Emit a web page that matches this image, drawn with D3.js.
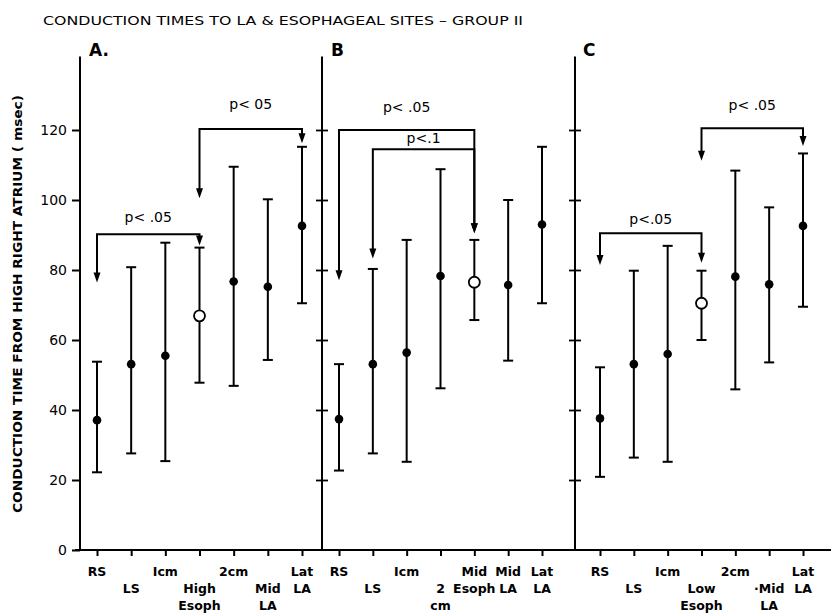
<!DOCTYPE html>
<html>
<head>
<meta charset="utf-8">
<script src="https://cdn.jsdelivr.net/npm/d3@7"></script>
<style>
  body { margin: 0; background: #fff; }
  svg text { font-family: "DejaVu Sans", "Liberation Sans", Arial, sans-serif; fill: #000; }
</style>
</head>
<body>
<svg id="chart" width="831" height="613"></svg>
<script>
// Group II conduction times, mean with range (msec)
const categoriesA = ["RS", "LS", "1cm", "High Esoph", "2cm", "Mid LA", "Lat LA"];
const categoriesB = ["RS", "LS", "1cm", "2cm", "Mid Esoph", "Mid LA", "Lat LA"];
const categoriesC = ["RS", "LS", "1cm", "Low Esoph", "2cm", "Mid LA", "Lat LA"];

// tick label lines, one entry per row under the axis ("" = empty row)
const tickLinesA = [["RS"], ["", "LS"], ["Icm"], ["", "High", "Esoph"], ["2cm"], ["", "Mid", "LA"], ["Lat", "LA"]];
const tickLinesB = [["RS"], ["", "LS"], ["Icm"], ["", "2", "cm"], ["Mid", "Esoph"], ["Mid", "LA"], ["Lat", "LA"]];
const tickLinesC = [["RS"], ["", "LS"], ["Icm"], ["", "Low", "Esoph"], ["2cm"], ["", "·Mid", "LA"], ["Lat", "LA"]];

const meanA = [37.1, 53.1, 55.5, 66.9, 76.7, 75.2, 92.6];
const lowA  = [22.2, 27.6, 25.4, 47.8, 46.9, 54.3, 70.5];
const highA = [53.8, 80.8, 87.8, 86.4, 109.5, 100.2, 115.2];

const meanB = [37.4, 53.1, 56.4, 78.3, 76.5, 75.7, 93.0];
const lowB  = [22.7, 27.6, 25.2, 46.2, 65.7, 54.1, 70.5];
const highB = [53.1, 80.3, 88.6, 108.8, 88.6, 100.0, 115.2];

const meanC = [37.6, 53.1, 56.0, 70.5, 78.1, 75.9, 92.6];
const lowC  = [20.9, 26.4, 25.2, 60.0, 45.9, 53.6, 69.5];
const highC = [52.2, 79.8, 86.9, 79.8, 108.4, 97.9, 113.3];

// the esophageal site in each panel is drawn as an open circle
const openA = "High Esoph", openB = "Mid Esoph", openC = "Low Esoph";

// significance brackets: from / to category, bar level, arrow tips, label height
const bracketsA = [
  {from: "RS", to: "High Esoph", level: 90.2, fromTip: 76.4, toTip: 87.0, labelAt: 93.7, label: "p< .05"},
  {from: "High Esoph", to: "Lat LA", level: 120.3, fromTip: 100.5, toTip: 116.2, labelAt: 126.0, label: "p< 05"}
];
const bracketsB = [
  {from: "RS", to: "Mid Esoph", level: 120.0, fromTip: 77.1, toTip: 90.5, labelAt: 125.2, label: "p< .05"},
  {from: "LS", to: "Mid Esoph", level: 114.5, fromTip: 83.3, toTip: 90.5, labelAt: 116.2, label: "p<.1"}
];
const bracketsC = [
  {from: "RS", to: "Low Esoph", level: 90.5, fromTip: 81.4, toTip: 82.1, labelAt: 93.1, label: "p<.05"},
  {from: "Low Esoph", to: "Lat LA", level: 120.5, fromTip: 111.2, toTip: 115.4, labelAt: 125.7, label: "p< .05"}
];

const yTicks = [0, 20, 40, 60, 80, 100, 120];

const svg = d3.select("#chart");
const y = d3.scaleLinear().domain([0, 120]).range([550, 130]);
const yTop = 141;   // axes run a bit above the last tick

const panels = [
  {name: "A.", cats: categoriesA, lines: tickLinesA, mean: meanA, low: lowA, high: highA, open: openA, brackets: bracketsA, axisX: 80, range: [97, 302], labelX: 89},
  {name: "B", cats: categoriesB, lines: tickLinesB, mean: meanB, low: lowB, high: highB, open: openB, brackets: bracketsB, axisX: 322, range: [339, 542], labelX: 331},
  {name: "C", cats: categoriesC, lines: tickLinesC, mean: meanC, low: lowC, high: highC, open: openC, brackets: bracketsC, axisX: 575, range: [600, 803], labelX: 583}
];

// title
svg.append("text")
  .attr("x", 43).attr("y", 25)
  .attr("font-size", 12)
  .attr("textLength", 480).attr("lengthAdjust", "spacingAndGlyphs")
  .text("CONDUCTION TIMES TO LA & ESOPHAGEAL SITES – GROUP II");

// y axis title
svg.append("text")
  .attr("transform", "translate(22,304) rotate(-90)")
  .attr("text-anchor", "middle")
  .attr("font-size", 12.5).attr("font-weight", "bold")
  .attr("textLength", 418).attr("lengthAdjust", "spacingAndGlyphs")
  .text("CONDUCTION TIME FROM HIGH RIGHT ATRIUM  ( msec)");

// baseline across all panels
svg.append("line")
  .attr("x1", 75).attr("x2", 831)
  .attr("y1", y(0)).attr("y2", y(0))
  .attr("stroke", "#000").attr("stroke-width", 2);

const rowY = [576, 593, 610];

panels.forEach((p, pi) => {
  const x = d3.scalePoint().domain(p.cats).range(p.range);
  const g = svg.append("g");

  // vertical axis line
  g.append("line")
    .attr("x1", p.axisX).attr("x2", p.axisX)
    .attr("y1", y(0)).attr("y2", y(yTop))
    .attr("stroke", "#000").attr("stroke-width", 2);

  if (pi === 0) {
    const ax = g.append("g")
      .attr("transform", `translate(${p.axisX},0)`)
      .call(d3.axisLeft(y).tickValues(yTicks).tickSize(8).tickPadding(5));
    ax.select(".domain").remove();
    ax.selectAll("line").attr("stroke-width", 2);
    ax.selectAll("text").attr("font-size", 14).attr("font-family", "DejaVu Sans, sans-serif");
  } else {
    // cross ticks on the inner axes
    [d3.axisLeft(y), d3.axisRight(y)].forEach(gen => {
      const ax = g.append("g")
        .attr("transform", `translate(${p.axisX},0)`)
        .call(gen.tickValues(yTicks.slice(1)).tickSize(6).tickFormat(""));
      ax.select(".domain").remove();
      ax.selectAll("line").attr("stroke-width", 1.8);
    });
  }

  // panel letter
  g.append("text")
    .attr("x", p.labelX).attr("y", 56)
    .attr("font-size", 17).attr("font-weight", "bold")
    .text(p.name);

  // x ticks
  const xa = g.append("g")
    .attr("transform", `translate(0,${y(0)})`)
    .call(d3.axisBottom(x).tickSize(6).tickFormat(""));
  xa.select(".domain").remove();
  xa.selectAll("line").attr("stroke-width", 2);

  // staggered tick labels
  p.cats.forEach((c, i) => {
    p.lines[i].forEach((line, r) => {
      if (!line) return;
      g.append("text")
        .attr("x", x(c)).attr("y", rowY[r])
        .attr("text-anchor", "middle")
        .attr("font-size", 12.5).attr("font-weight", "bold")
        .text(line);
    });
  });

  // error bars
  const bars = g.selectAll(".bar").data(p.cats).enter().append("g");
  bars.append("line")
    .attr("x1", c => x(c)).attr("x2", c => x(c))
    .attr("y1", (c, i) => y(p.low[i])).attr("y2", (c, i) => y(p.high[i]))
    .attr("stroke", "#000").attr("stroke-width", 2);
  ["low", "high"].forEach(k => {
    bars.append("line")
      .attr("x1", c => x(c) - 5).attr("x2", c => x(c) + 5)
      .attr("y1", (c, i) => y(p[k][i])).attr("y2", (c, i) => y(p[k][i]))
      .attr("stroke", "#000").attr("stroke-width", 2);
  });
  bars.append("circle")
    .attr("cx", c => x(c)).attr("cy", (c, i) => y(p.mean[i]))
    .attr("r", c => c === p.open ? 5.5 : 4.3)
    .attr("fill", c => c === p.open ? "#fff" : "#000")
    .attr("stroke", "#000").attr("stroke-width", c => c === p.open ? 1.8 : 0);

  // brackets with arrows
  p.brackets.forEach(b => {
    const x1 = x(b.from), x2 = x(b.to);
    g.append("path")
      .attr("d", `M${x1},${y(b.fromTip) - 8} V${y(b.level)} H${x2} V${y(b.toTip) - 8}`)
      .attr("fill", "none").attr("stroke", "#000").attr("stroke-width", 2);
    [[x1, b.fromTip], [x2, b.toTip]].forEach(([ax, tip]) => {
      const ty = y(tip);
      g.append("path")
        .attr("d", `M${ax - 3.5},${ty - 10} L${ax + 3.5},${ty - 10} L${ax},${ty} Z`)
        .attr("fill", "#000");
    });
    g.append("text")
      .attr("x", (x1 + x2) / 2).attr("y", y(b.labelAt))
      .attr("text-anchor", "middle")
      .attr("font-size", 14)
      .text(b.label);
  });
});
</script>
</body>
</html>
